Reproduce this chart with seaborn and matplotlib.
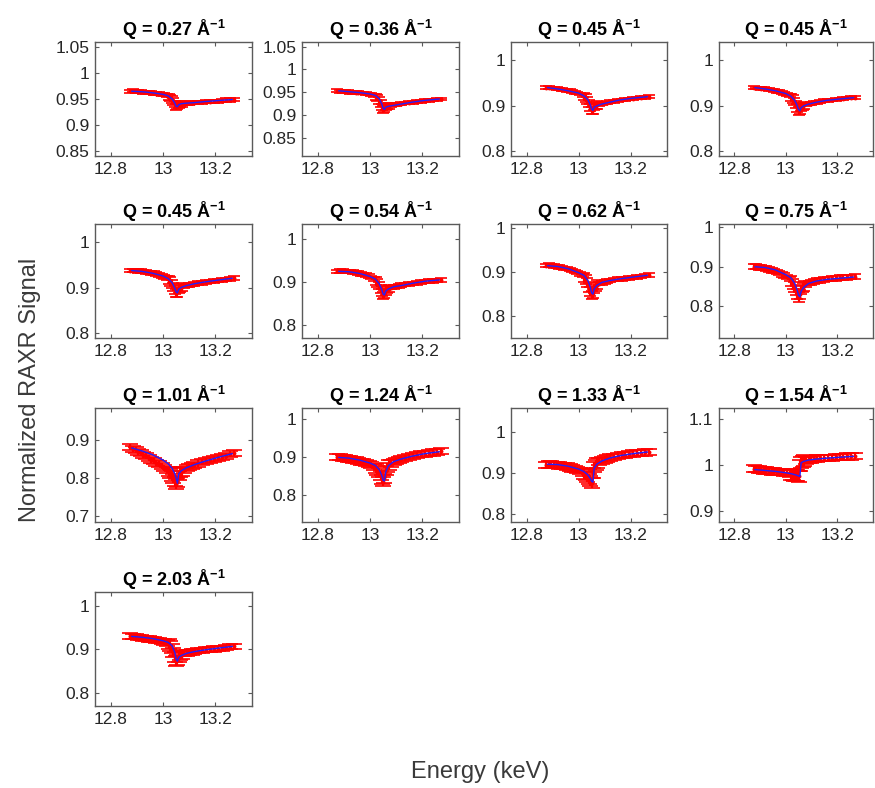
import numpy as np
import pandas as pd
import matplotlib
matplotlib.use("Agg")
import matplotlib.pyplot as plt
import seaborn as sns

# ---------------- data ----------------
Q_LABELS = ["0.27", "0.36", "0.45", "0.45", "0.45", "0.54", "0.62",
            "0.75", "1.01", "1.24", "1.33", "1.54", "2.03"]

ENERGY = [12.875, 12.885, 12.895, 12.905, 12.915, 12.925, 12.935, 12.945,
          12.955, 12.965, 12.975, 12.985, 12.995, 13.005, 13.015, 13.022,
          13.028, 13.034, 13.040, 13.045, 13.050, 13.055, 13.060, 13.066,
          13.072, 13.080, 13.090, 13.100, 13.110, 13.120, 13.135, 13.150,
          13.165, 13.180, 13.195, 13.210, 13.225, 13.240, 13.255, 13.270]

FIT_ENERGY = [12.88, 12.92, 12.96, 13.00, 13.02, 13.035, 13.045, 13.050,
              13.055, 13.060, 13.070, 13.090, 13.120, 13.160, 13.210, 13.265]

SIG_027 = [0.965, 0.966, 0.965, 0.964, 0.965, 0.963, 0.963, 0.962, 0.962, 0.961, 0.960, 0.960, 0.959,
           0.958, 0.956, 0.954, 0.952, 0.949, 0.945, 0.940,
           0.935, 0.936, 0.939, 0.940, 0.941,
           0.941, 0.942, 0.942, 0.943, 0.943, 0.944, 0.944, 0.945, 0.945, 0.946, 0.946, 0.947, 0.948, 0.948, 0.949]
SIG_036 = [0.953, 0.952, 0.952, 0.951, 0.951, 0.950, 0.950, 0.949, 0.949, 0.948, 0.948, 0.947, 0.946,
           0.945, 0.943, 0.940, 0.937, 0.932, 0.925, 0.918,
           0.912, 0.914, 0.918, 0.919, 0.920,
           0.921, 0.922, 0.923, 0.924, 0.925, 0.926, 0.927, 0.928, 0.929, 0.930, 0.931, 0.932, 0.933, 0.934, 0.935]
SIG_045A = [0.940, 0.940, 0.939, 0.939, 0.938, 0.937, 0.936, 0.935, 0.934, 0.933, 0.931, 0.930, 0.928,
            0.926, 0.923, 0.920, 0.917, 0.912, 0.905, 0.897,
            0.890, 0.891, 0.898, 0.900, 0.902,
            0.903, 0.905, 0.906, 0.907, 0.909, 0.910, 0.912, 0.913, 0.914, 0.915, 0.916, 0.917, 0.918, 0.919, 0.920]
SIG_045B = [0.940, 0.939, 0.939, 0.938, 0.938, 0.937, 0.936, 0.935, 0.934, 0.932, 0.931, 0.929, 0.927,
            0.925, 0.922, 0.919, 0.915, 0.910, 0.903, 0.895,
            0.889, 0.891, 0.897, 0.899, 0.901,
            0.903, 0.904, 0.905, 0.907, 0.908, 0.910, 0.911, 0.912, 0.913, 0.914, 0.915, 0.916, 0.917, 0.918, 0.918]
SIG_045C = [0.938, 0.938, 0.938, 0.937, 0.937, 0.936, 0.935, 0.934, 0.933, 0.932, 0.930, 0.928, 0.926,
            0.924, 0.921, 0.918, 0.914, 0.909, 0.902, 0.895,
            0.888, 0.890, 0.897, 0.900, 0.902,
            0.903, 0.905, 0.906, 0.907, 0.909, 0.910, 0.911, 0.913, 0.914, 0.915, 0.916, 0.917, 0.918, 0.920, 0.921]
SIG_054 = [0.925, 0.926, 0.926, 0.925, 0.925, 0.924, 0.923, 0.922, 0.921, 0.919, 0.918, 0.916, 0.914,
           0.911, 0.907, 0.903, 0.898, 0.892, 0.884, 0.876,
           0.869, 0.872, 0.880, 0.883, 0.885,
           0.887, 0.889, 0.890, 0.891, 0.893, 0.894, 0.896, 0.897, 0.898, 0.900, 0.901, 0.902, 0.903, 0.904, 0.905]
SIG_062 = [0.915, 0.916, 0.915, 0.914, 0.913, 0.912, 0.911, 0.909, 0.908, 0.906, 0.904, 0.902, 0.899,
           0.896, 0.892, 0.888, 0.883, 0.876, 0.866, 0.856,
           0.848, 0.852, 0.862, 0.868, 0.872,
           0.874, 0.876, 0.878, 0.880, 0.881, 0.883, 0.884, 0.885, 0.886, 0.887, 0.888, 0.889, 0.890, 0.892, 0.894]
SIG_075 = [0.900, 0.900, 0.899, 0.898, 0.897, 0.895, 0.893, 0.891, 0.889, 0.887, 0.884, 0.881, 0.878,
           0.874, 0.869, 0.864, 0.857, 0.849, 0.840, 0.831,
           0.824, 0.830, 0.842, 0.848, 0.852,
           0.856, 0.859, 0.861, 0.863, 0.865, 0.866, 0.868, 0.869, 0.870, 0.871, 0.872, 0.872, 0.873, 0.874, 0.875]
SIG_101 = [0.882, 0.878, 0.874, 0.870, 0.866, 0.862, 0.858, 0.853, 0.849, 0.845, 0.841, 0.837, 0.833,
           0.828, 0.822, 0.818, 0.812, 0.806, 0.800, 0.792,
           0.785, 0.790, 0.808, 0.815, 0.818,
           0.822, 0.826, 0.830, 0.833, 0.836, 0.839, 0.842, 0.845, 0.848, 0.851, 0.853, 0.856, 0.859, 0.863, 0.867]
SIG_124 = [0.900, 0.900, 0.899, 0.898, 0.897, 0.896, 0.894, 0.893, 0.891, 0.889, 0.887, 0.885, 0.882,
           0.879, 0.875, 0.871, 0.866, 0.860, 0.852, 0.843,
           0.836, 0.845, 0.865, 0.874, 0.880,
           0.884, 0.888, 0.891, 0.894, 0.897, 0.899, 0.902, 0.904, 0.906, 0.908, 0.910, 0.912, 0.913, 0.915, 0.916]
SIG_133 = [0.920, 0.921, 0.921, 0.920, 0.920, 0.919, 0.918, 0.917, 0.916, 0.914, 0.912, 0.910, 0.908,
           0.905, 0.901, 0.898, 0.894, 0.890, 0.886, 0.881,
           0.876, 0.900, 0.915, 0.920, 0.924,
           0.928, 0.931, 0.934, 0.936, 0.938, 0.940, 0.942, 0.944, 0.945, 0.947, 0.948, 0.949, 0.950, 0.951, 0.952]
SIG_154 = [0.992, 0.991, 0.990, 0.989, 0.988, 0.988, 0.987, 0.986, 0.986, 0.985, 0.984, 0.984, 0.983,
           0.982, 0.981, 0.980, 0.979, 0.978, 0.977, 0.976,
           0.975, 0.998, 1.006, 1.008, 1.009,
           1.010, 1.011, 1.012, 1.013, 1.014, 1.015, 1.015, 1.016, 1.016, 1.017, 1.018, 1.018, 1.019, 1.019, 1.020]
SIG_203 = [0.931, 0.930, 0.929, 0.928, 0.927, 0.926, 0.925, 0.924, 0.923, 0.922, 0.921, 0.920, 0.919,
           0.917, 0.915, 0.912, 0.908, 0.902, 0.893, 0.883,
           0.873, 0.876, 0.883, 0.886, 0.888,
           0.890, 0.892, 0.893, 0.894, 0.896, 0.897, 0.898, 0.899, 0.900, 0.901, 0.902, 0.903, 0.904, 0.906, 0.907]

FIT_027 = [0.965, 0.964, 0.962, 0.959, 0.956, 0.950, 0.942, 0.936, 0.935, 0.939, 0.941, 0.942, 0.943, 0.945, 0.947, 0.949]
FIT_036 = [0.953, 0.951, 0.949, 0.946, 0.943, 0.936, 0.924, 0.915, 0.912, 0.917, 0.919, 0.921, 0.924, 0.928, 0.932, 0.935]
FIT_045A = [0.940, 0.937, 0.933, 0.928, 0.922, 0.914, 0.902, 0.893, 0.890, 0.897, 0.900, 0.904, 0.908, 0.913, 0.917, 0.920]
FIT_045B = [0.940, 0.937, 0.933, 0.927, 0.921, 0.912, 0.900, 0.892, 0.889, 0.896, 0.900, 0.904, 0.908, 0.912, 0.915, 0.918]
FIT_045C = [0.938, 0.936, 0.932, 0.926, 0.920, 0.911, 0.899, 0.891, 0.889, 0.897, 0.901, 0.905, 0.909, 0.913, 0.917, 0.921]
FIT_054 = [0.925, 0.924, 0.920, 0.913, 0.907, 0.896, 0.882, 0.872, 0.870, 0.879, 0.884, 0.889, 0.892, 0.897, 0.902, 0.905]
FIT_062 = [0.915, 0.913, 0.908, 0.899, 0.893, 0.882, 0.866, 0.853, 0.850, 0.862, 0.870, 0.877, 0.881, 0.885, 0.889, 0.893]
FIT_075 = [0.900, 0.898, 0.892, 0.880, 0.872, 0.858, 0.840, 0.828, 0.824, 0.838, 0.848, 0.858, 0.864, 0.868, 0.871, 0.874]
FIT_101 = [0.880, 0.872, 0.862, 0.848, 0.838, 0.826, 0.812, 0.800, 0.787, 0.812, 0.820, 0.828, 0.836, 0.845, 0.855, 0.865]
FIT_124 = [0.900, 0.898, 0.893, 0.885, 0.879, 0.868, 0.852, 0.840, 0.838, 0.862, 0.878, 0.889, 0.896, 0.903, 0.910, 0.915]
FIT_133 = [0.922, 0.921, 0.917, 0.910, 0.904, 0.896, 0.887, 0.880, 0.878, 0.912, 0.922, 0.930, 0.937, 0.943, 0.948, 0.952]
FIT_154 = [0.990, 0.988, 0.986, 0.983, 0.981, 0.979, 0.977, 0.976, 0.975, 1.005, 1.008, 1.011, 1.013, 1.015, 1.017, 1.019]
FIT_203 = [0.930, 0.928, 0.925, 0.920, 0.916, 0.908, 0.893, 0.878, 0.873, 0.882, 0.886, 0.891, 0.895, 0.899, 0.903, 0.907]

# uncertainty away from / near the absorption edge
ERR_FAR = [0.003, 0.003, 0.003, 0.003, 0.004, 0.004, 0.004, 0.006, 0.008, 0.008, 0.008, 0.007, 0.006]
ERR_NEAR = [0.006, 0.007, 0.008, 0.008, 0.009, 0.009, 0.010, 0.012, 0.012, 0.012, 0.012, 0.012, 0.011]

YLIMS = [(0.84, 1.06), (0.81, 1.06), (0.79, 1.04), (0.79, 1.04), (0.79, 1.04), (0.77, 1.035),
         (0.75, 1.01), (0.72, 1.008), (0.685, 0.985), (0.73, 1.03), (0.78, 1.06), (0.875, 1.125),
         (0.77, 1.032)]
YTICKS = [[0.85, 0.9, 0.95, 1, 1.05], [0.85, 0.9, 0.95, 1, 1.05], [0.8, 0.9, 1], [0.8, 0.9, 1],
          [0.8, 0.9, 1], [0.8, 0.9, 1], [0.8, 0.9, 1], [0.8, 0.9, 1], [0.7, 0.8, 0.9],
          [0.8, 0.9, 1], [0.8, 0.9, 1], [0.9, 1, 1.1], [0.8, 0.9, 1]]
XTICKS = [12.8, 13.0, 13.2]
XLIM = (12.74, 13.34)

SIGNALS = [SIG_027, SIG_036, SIG_045A, SIG_045B, SIG_045C, SIG_054, SIG_062,
           SIG_075, SIG_101, SIG_124, SIG_133, SIG_154, SIG_203]
FITS = [FIT_027, FIT_036, FIT_045A, FIT_045B, FIT_045C, FIT_054, FIT_062,
        FIT_075, FIT_101, FIT_124, FIT_133, FIT_154, FIT_203]

# ---------------- style ----------------
sns.set_theme(style="white")
plt.rcParams["font.family"] = ["Liberation Sans", "DejaVu Sans"]
plt.rcParams["mathtext.fontset"] = "custom"
plt.rcParams["mathtext.rm"] = "Liberation Sans"
plt.rcParams["mathtext.bf"] = "Liberation Sans:bold"

W, H = 875, 788
fig = plt.figure(figsize=(W / 100, H / 100), dpi=100)

col_left = [95, 302, 511, 719]
col_w = [157, 157, 156, 154]
row_top = [42, 224, 408, 592]
ax_h = 114

AX_COLOR = "#5a5a5a"
TXT_COLOR = "#262626"

energy = np.array(ENERGY)
for i, q in enumerate(Q_LABELS):
    r, c = divmod(i, 4)
    l, t = col_left[c], row_top[r]
    ax = fig.add_axes([l / W, 1 - (t + ax_h) / H, col_w[c] / W, ax_h / H])
    sig = np.array(SIGNALS[i])
    err = np.where(np.abs(energy - 13.047) < 0.03, ERR_NEAR[i], ERR_FAR[i])
    cap = 4 if i < 8 else 6
    ax.errorbar(energy, sig, yerr=err, fmt="none", ecolor="#ff0000",
                elinewidth=1.6, capsize=cap, capthick=1.2, zorder=2)
    df_pts = pd.DataFrame({"E": energy, "S": sig})
    sns.scatterplot(data=df_pts, x="E", y="S", ax=ax, color="#ff0000",
                    s=8, linewidth=0, zorder=3, legend=False)
    df_fit = pd.DataFrame({"E": FIT_ENERGY, "S": FITS[i]})
    sns.lineplot(data=df_fit, x="E", y="S", ax=ax, color="#2020ff",
                 linewidth=1.0, zorder=4, legend=False)
    ax.set_xlim(*XLIM)
    ax.set_ylim(*YLIMS[i])
    ax.set_xticks(XTICKS)
    ax.set_xticklabels([f"{v:g}" for v in XTICKS])
    ax.set_yticks(YTICKS[i])
    ax.set_yticklabels([f"{v:g}" for v in YTICKS[i]])
    ax.set_xlabel("")
    ax.set_ylabel("")
    ax.tick_params(direction="in", length=3, width=0.8, colors=AX_COLOR,
                   labelcolor=TXT_COLOR, labelsize=12.5, pad=4,
                   top=True, right=True, bottom=True, left=True)
    for s in ax.spines.values():
        s.set_color(AX_COLOR)
        s.set_linewidth(1.0)
    ax.set_title(r"Q = " + q + r" Å$^{\mathbf{-1}}$", fontsize=13,
                 fontweight="bold", color="black", pad=4)

fig.text(30 / W, 1 - 390 / H, "Normalized RAXR Signal", rotation=90,
         ha="center", va="center", fontsize=17, color="#3a3a3a")
fig.text(480 / W, 1 - 772 / H, "Energy (keV)", ha="center", va="center",
         fontsize=17, color="#3a3a3a")

fig.savefig("out.png", dpi=100)
